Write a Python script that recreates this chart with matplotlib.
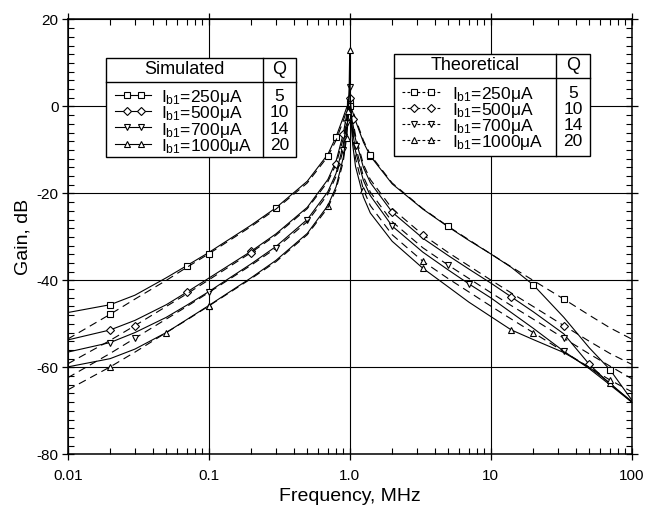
import matplotlib
matplotlib.use("Agg")
import matplotlib.pyplot as plt
from matplotlib.patches import Rectangle
from matplotlib.ticker import FixedLocator, MultipleLocator, LogLocator, NullFormatter

plt.rcParams['font.family'] = ['Liberation Sans', 'DejaVu Sans']
plt.rcParams['mathtext.fontset'] = 'custom'
plt.rcParams['mathtext.rm'] = 'Liberation Sans'
plt.rcParams['mathtext.default'] = 'regular'
plt.rcParams['axes.unicode_minus'] = False

# ---- data ----
currents = ["250", "500", "700", "1000"]
q_values = ["5", "10", "14", "20"]
markers = ["s", "D", "v", "^"]

# simulated (solid)
freq_sim = [0.01, 0.02, 0.03, 0.05, 0.07, 0.1, 0.2, 0.3, 0.5, 0.7, 0.8, 0.9, 0.95,
            0.98, 0.99, 0.995, 1.0, 1.005, 1.01, 1.02, 1.05, 1.1, 1.25, 1.4, 2, 3.3,
            5, 7, 10, 14, 20, 33, 50, 70, 100]
sim_q5 = [-47.4, -45.6, -43.4, -39.4, -36.6, -33.6, -27.3, -23.3, -17.2, -11.0, -7.0,
          -2.5, -0.3, 0.6, 0.8, 0.8, 0.7, 0.6, 0.4, 0.0, -1.3, -3.3, -8.2, -11.4,
          -17.8, -23.6, -27.7, -30.8, -33.9, -37.0, -41.0, -48.5, -55.5, -60.5, -67.5]
sim_q10 = [-53.7, -51.4, -49.2, -45.6, -42.7, -39.5, -33.3, -29.3, -23.2, -16.8, -12.6,
           -6.3, -2.0, 1.2, 2.0, 2.2, 2.0, 1.5, 0.8, -0.8, -3.8, -7.5, -14.0, -17.5,
           -24.3, -30.3, -34.3, -37.4, -40.6, -43.8, -47.2, -52.3, -59.3, -63.8, -67.8]
sim_q14 = [-56.5, -54.3, -52.0, -48.5, -45.7, -42.6, -36.2, -32.2, -26.0, -19.6, -15.4,
           -8.8, -3.8, 0.5, 2.8, 4.0, 4.5, 3.8, 2.5, -0.8, -5.8, -10.3, -17.0, -20.5,
           -27.5, -33.5, -37.6, -40.8, -44.0, -47.4, -51.0, -56.3, -60.3, -64.0, -68.0]
sim_q20 = [-59.9, -58.0, -55.8, -52.0, -49.0, -45.8, -39.4, -35.4, -29.2, -22.8, -18.5,
           -11.8, -6.2, -1.0, 3.0, 8.0, 13.0, 8.0, 3.0, -2.5, -8.8, -13.8, -20.8, -24.5,
           -31.0, -37.2, -41.5, -45.0, -48.3, -51.4, -53.6, -56.6, -60.0, -63.6, -68.0]

# theoretical (dashed)
freq_th = [0.01, 0.02, 0.03, 0.05, 0.07, 0.1, 0.2, 0.3, 0.5, 0.7, 0.8, 0.9, 0.95, 0.98,
           1.0, 1.02, 1.05, 1.1, 1.25, 1.4, 2, 3.3, 5, 10, 14, 20, 33, 50, 70, 100]
th_q5 = [-53.5, -47.8, -44.3, -40.0, -37.0, -33.9, -27.6, -23.6, -17.6, -11.5, -7.8, -3.3,
         -1.0, -0.2, 0.0, -0.2, -0.9, -2.8, -7.8, -11.1, -17.6, -23.5, -27.6, -33.9,
         -36.9, -40.0, -44.3, -48.0, -50.9, -53.5]
th_q10 = [-59.2, -53.8, -50.4, -46.0, -43.1, -39.9, -33.6, -29.6, -23.5, -17.3, -13.3,
          -7.4, -3.1, -0.7, 0.0, -0.6, -2.9, -6.7, -13.3, -16.8, -23.5, -29.5, -33.6,
          -39.9, -42.9, -46.0, -50.4, -54.0, -56.8, -59.3]
th_q14 = [-62.4, -56.8, -53.3, -48.9, -46.0, -42.8, -36.5, -32.6, -26.5, -20.2, -16.1,
          -9.9, -4.9, -1.2, 0.0, -1.2, -4.6, -9.1, -16.1, -19.7, -26.5, -32.5, -36.5,
          -42.8, -45.8, -48.9, -53.3, -56.9, -59.7, -62.6]
th_q20 = [-65.2, -59.9, -56.5, -52.0, -49.1, -45.9, -39.6, -35.7, -29.5, -23.3, -19.1,
          -12.7, -7.2, -2.2, 0.0, -2.1, -6.8, -11.9, -19.1, -22.8, -29.5, -35.6, -39.6,
          -45.9, -48.9, -52.0, -56.4, -60.0, -62.9, -65.6]

sims = [sim_q5, sim_q10, sim_q14, sim_q20]
theories = [th_q5, th_q10, th_q14, th_q20]

# which points carry a marker
sim_marks = [[1, 4, 7, 10, 16, 23, 30, 33],
             [1, 4, 6, 11, 16, 24, 29, 32],
             [1, 5, 8, 12, 16, 24, 27, 31],
             [3, 5, 9, 13, 16, 25, 29, 33]]
th_marks = [[1, 5, 9, 14, 19, 22, 26],
            [2, 6, 10, 16, 21, 26],
            [2, 7, 11, 17, 22, 26],
            [1, 5, 12, 18, 21, 25, 28]]

msize = [4.5, 4.2, 4.5, 4.5]
dash = (7, 4.5)

fig = plt.figure(figsize=(6.59, 5.11), dpi=100)
ax = fig.add_axes([67.7 / 659, 1 - 454.3 / 511, 564 / 659, 434.8 / 511])

for i in range(4):
    ax.plot(freq_sim, sims[i], color='black', lw=0.8, marker=markers[i],
            markevery=sim_marks[i], ms=msize[i], mfc='white', mec='black', mew=0.8,
            zorder=3)
    ax.plot(freq_th, theories[i], color='black', lw=0.8, dashes=dash, marker=markers[i],
            markevery=th_marks[i], ms=msize[i] - 0.5, mfc='white', mec='black', mew=0.8,
            zorder=3)

ax.set_xscale('log')
ax.set_xlim(0.01, 100)
ax.set_ylim(-80, 20)
ax.xaxis.set_major_locator(FixedLocator([0.01, 0.1, 1, 10, 100]))
ax.set_xticklabels(["0.01", "0.1", "1.0", "10", "100"])
ax.xaxis.set_minor_locator(LogLocator(base=10, subs=range(2, 10), numticks=20))
ax.xaxis.set_minor_formatter(NullFormatter())
ax.yaxis.set_major_locator(MultipleLocator(20))
ax.yaxis.set_minor_locator(MultipleLocator(2))
ax.tick_params(which='major', direction='inout', length=9, width=0.9,
               top=True, right=True, labelsize=11, pad=2)
ax.tick_params(axis='x', which='major', pad=6)
ax.tick_params(which='minor', direction='in', length=4.5, width=0.8,
               top=True, right=True)
ax.grid(True, which='major', color='black', lw=0.8)
for s in ax.spines.values():
    s.set_linewidth(1.1)

ax.set_xlabel("Frequency, MHz", fontsize=14, labelpad=4)
ax.set_ylabel("Gain, dB", fontsize=14, labelpad=4)


# ---- the two legend tables (drawn in pixel-like layout coords) ----
def axx(px):
    return (px - 67.7) / 564


def axy(py):
    return (454.3 - py) / 434.8


def table(x0, x1, xq, y0, yh, y1, title, line_x, mark_x, text_x, rows_y, dashed):
    ax.add_patch(Rectangle((axx(x0), axy(y1)), axx(x1) - axx(x0), axy(y0) - axy(y1),
                           transform=ax.transAxes, facecolor='white', edgecolor='black',
                           lw=1.0, zorder=5))
    ax.plot([axx(x0), axx(x1)], [axy(yh), axy(yh)], transform=ax.transAxes,
            color='black', lw=1.0, zorder=6)
    ax.plot([axx(xq), axx(xq)], [axy(y0), axy(y1)], transform=ax.transAxes,
            color='black', lw=1.0, zorder=6)
    ax.text(axx((x0 + xq) / 2), axy((y0 + yh) / 2), title, transform=ax.transAxes,
            ha='center', va='center', fontsize=13, zorder=7)
    ax.text(axx((xq + x1) / 2), axy((y0 + yh) / 2), "Q", transform=ax.transAxes,
            ha='center', va='center', fontsize=13, zorder=7)
    for i in range(4):
        yy = axy(rows_y[i])
        kw = dict(dashes=(2.5, 2)) if dashed else {}
        ax.plot([axx(line_x[0]), axx(line_x[1])], [yy, yy], transform=ax.transAxes,
                color='black', lw=0.8, zorder=6, **kw)
        ax.plot([axx(m) for m in mark_x], [yy, yy], transform=ax.transAxes,
                ls='none', marker=markers[i], ms=msize[i] - 0.5, mfc='white',
                mec='black', mew=0.8, zorder=7)
        ax.text(axx(text_x), yy, "I$_{b1}$=" + currents[i] + "μA",
                transform=ax.transAxes, ha='left', va='center_baseline',
                fontsize=12.5, zorder=7)
        ax.text(axx((xq + x1) / 2), yy, q_values[i], transform=ax.transAxes,
                ha='center', va='center_baseline', fontsize=12.5, zorder=7)


table(106, 296, 263, 58, 82, 157, "Simulated", (115, 151), (127, 141), 161,
      [95, 111, 127.5, 144], False)
table(394, 590, 556, 54, 78, 156, "Theoretical", (402, 442), (414, 431), 452,
      [92.5, 108.5, 124, 140], True)

fig.savefig("out.png", dpi=100)
